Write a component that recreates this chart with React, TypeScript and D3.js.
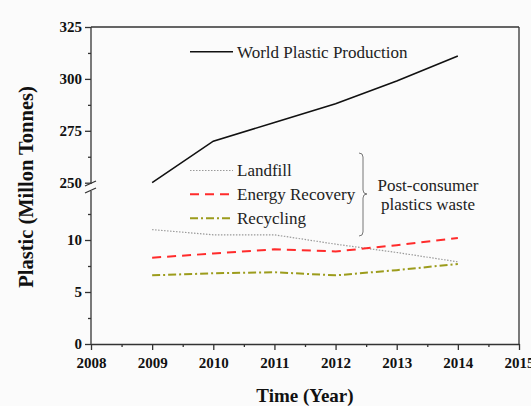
import { useEffect, useRef } from "react";
import * as d3 from "d3";

const WIDTH = 531;
const HEIGHT = 406;
const MARGIN = { top: 27, right: 12, bottom: 62, left: 91 };
const BREAK_Y = 188; // pixel position of the axis break

const years = [2009, 2010, 2011, 2012, 2013, 2014];
const worldProduction = [250, 270, 279, 288, 299, 311];
const landfill = [11.0, 10.5, 10.5, 9.6, 8.8, 7.9];
const energyRecovery = [8.3, 8.7, 9.1, 8.9, 9.5, 10.2];
const recycling = [6.6, 6.8, 6.9, 6.6, 7.1, 7.7];

const xTicks = [2008, 2009, 2010, 2011, 2012, 2013, 2014, 2015];
const upperTicks = [250, 275, 300, 325];
const lowerTicks = [0, 5, 10];

const FONT = "'Liberation Serif', 'Times New Roman', serif";

const App = () => {
    const xAxisRef = useRef(null);
    const upperAxisRef = useRef(null);
    const lowerAxisRef = useRef(null);

    const boundsBottom = HEIGHT - MARGIN.bottom;
    const boundsRight = WIDTH - MARGIN.right;

    const xScale = d3.scaleLinear().domain([2008, 2015]).range([MARGIN.left, boundsRight]);
    // upper segment: 250..325, lower segment: 0..~14.5
    const yUpper = d3.scaleLinear().domain([250, 325]).range([182.7, MARGIN.top]);
    const yLower = d3.scaleLinear().domain([0, 10]).range([boundsBottom, 240]);

    useEffect(() => {
        const gx = d3.select(xAxisRef.current);
        gx.selectAll("*").remove();
        gx.append("g").call(
            d3.axisBottom(xScale).tickValues(xTicks).tickFormat(d3.format("d")).tickSize(6).tickSizeOuter(0)
        );
        gx.append("g").call(
            d3.axisBottom(xScale)
                .tickValues(xTicks.slice(0, -1).map((t) => t + 0.5))
                .tickFormat(() => "")
                .tickSize(3)
                .tickSizeOuter(0)
        ).select(".domain").remove();

        const gu = d3.select(upperAxisRef.current);
        gu.selectAll("*").remove();
        gu.append("g").call(d3.axisLeft(yUpper).tickValues(upperTicks).tickSize(6).tickSizeOuter(0));
        gu.append("g").call(
            d3.axisLeft(yUpper)
                .tickValues([262.5, 287.5, 312.5])
                .tickFormat(() => "")
                .tickSize(3)
        ).select(".domain").remove();
        gu.select(".domain").attr("d", `M0,${yUpper(325)}V${BREAK_Y - 4}`);

        const gl = d3.select(lowerAxisRef.current);
        gl.selectAll("*").remove();
        gl.append("g").call(d3.axisLeft(yLower).tickValues(lowerTicks).tickSize(6).tickSizeOuter(0));
        gl.append("g").call(
            d3.axisLeft(yLower)
                .tickValues([2.5, 7.5, 12.5])
                .tickFormat(() => "")
                .tickSize(3)
        ).select(".domain").remove();
        gl.select(".domain").attr("d", `M0,${BREAK_Y + 3}V${boundsBottom}`);

        [gx, gu, gl].forEach((g) => {
            g.selectAll("text")
                .attr("font-family", FONT)
                .attr("font-size", 15)
                .attr("font-weight", "bold")
                .attr("fill", "#111");
            g.selectAll("line, path").attr("stroke", "#333").attr("stroke-width", 1.3);
        });
        gx.selectAll("text").attr("dy", "1.0em");
    }, []);

    const upperLine = d3
        .line<number>()
        .x((_, i) => xScale(years[i]))
        .y((d) => yUpper(d));
    const lowerLine = d3
        .line<number>()
        .x((_, i) => xScale(years[i]))
        .y((d) => yLower(d));

    const series = [
        { name: "Landfill", values: landfill, stroke: "#9a9a9a", width: 1.2, dash: "1.5,1.5" },
        { name: "Energy Recovery", values: energyRecovery, stroke: "#ff2b2b", width: 2, dash: "9,6" },
        { name: "Recycling", values: recycling, stroke: "#9c9c1c", width: 2, dash: "8,3,2,3" },
    ];
    const legendY = [170.5, 194.3, 218.3];

    return (
        <div style={{ position: "absolute", left: 0, top: 0 }}>
            <svg width={WIDTH} height={HEIGHT} style={{ display: "block" }}>
                <rect width={WIDTH} height={HEIGHT} fill="#fbfbfb" />
                {/* frame */}
                <line x1={MARGIN.left} x2={boundsRight} y1={MARGIN.top} y2={MARGIN.top} stroke="#333" strokeWidth={1.3} />
                <line x1={boundsRight} x2={boundsRight} y1={MARGIN.top} y2={boundsBottom} stroke="#333" strokeWidth={1.3} />

                <g ref={xAxisRef} transform={`translate(0,${boundsBottom})`} />
                <g ref={upperAxisRef} transform={`translate(${MARGIN.left},0)`} />
                <g ref={lowerAxisRef} transform={`translate(${MARGIN.left},0)`} />

                {/* axis break marks */}
                <g stroke="#333" strokeWidth={1.3}>
                    <line x1={MARGIN.left - 6} y1={BREAK_Y - 2} x2={MARGIN.left + 5} y2={BREAK_Y - 7} />
                    <line x1={MARGIN.left - 6} y1={BREAK_Y + 5} x2={MARGIN.left + 5} y2={BREAK_Y} />
                </g>

                {/* data */}
                <path d={upperLine(worldProduction) || ""} fill="none" stroke="#111" strokeWidth={1.6} />
                {series.map((s) => (
                    <path
                        key={s.name}
                        d={lowerLine(s.values) || ""}
                        fill="none"
                        stroke={s.stroke}
                        strokeWidth={s.width}
                        strokeDasharray={s.dash}
                    />
                ))}

                {/* legend */}
                <g fontFamily={FONT} fontSize={17} fill="#222">
                    <line x1={190} x2={233} y1={51.7} y2={51.7} stroke="#111" strokeWidth={1.6} />
                    <text x={237} y={51.7} dy="0.35em">World Plastic Production</text>
                    {series.map((s, i) => (
                        <g key={s.name}>
                            <line
                                x1={190}
                                x2={233}
                                y1={legendY[i]}
                                y2={legendY[i]}
                                stroke={s.stroke}
                                strokeWidth={s.width}
                                strokeDasharray={s.dash}
                            />
                            <text x={237} y={legendY[i]} dy="0.35em">{s.name}</text>
                        </g>
                    ))}
                    <path
                        d="M359,153 Q363,153 363,157 V190 Q363,194 367,194 Q363,194 363,198 V232 Q363,236 359,236"
                        fill="none"
                        stroke="#777"
                        strokeWidth={1}
                    />
                    <text x={428} y={185} dy="0.35em" textAnchor="middle">Post-consumer</text>
                    <text x={428} y={204} dy="0.35em" textAnchor="middle">plastics waste</text>
                </g>

                {/* axis titles */}
                <text
                    x={305}
                    y={395}
                    dy="0.35em"
                    textAnchor="middle"
                    fontFamily={FONT}
                    fontSize={19}
                    fontWeight="bold"
                    fill="#111"
                >
                    Time (Year)
                </text>
                <text
                    transform={`translate(26,187) rotate(-90)`}
                    dy="0.35em"
                    textAnchor="middle"
                    fontFamily={FONT}
                    fontSize={20.5}
                    fontWeight="bold"
                    fill="#111"
                >
                    Plastic (Millon Tonnes)
                </text>
            </svg>
        </div>
    );
};

export default App;
